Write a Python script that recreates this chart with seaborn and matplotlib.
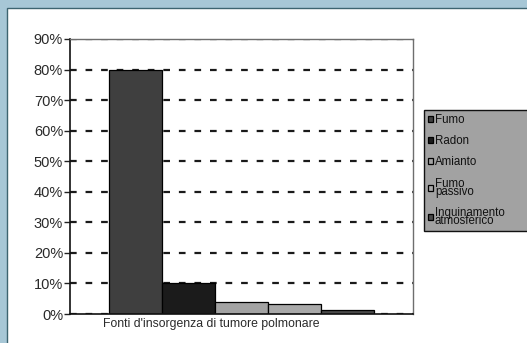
import pandas as pd
import matplotlib.pyplot as plt
import matplotlib.patches as mpatches
import matplotlib.transforms as mtransforms
import seaborn as sns

# Data
category = "Fonti d'insorgenza di tumore polmonare"
sources = ["Fumo", "Radon", "Amianto", "Fumo passivo", "Inquinamento atmosferico"]
shares = [80, 10, 3.8, 3.2, 1.2]
legend_labels = ["Fumo", "Radon", "Amianto", "Fumo\npassivo", "Inquinamento\natmosferico"]
yticks = [0, 10, 20, 30, 40, 50, 60, 70, 80, 90]
colors = ["#3f3f3f", "#1b1b1b", "#a3a3a3", "#a9a9a9", "#4a4a4a"]

df = pd.DataFrame({"Categoria": [category] * len(sources), "Fonte": sources, "Quota": shares})

sns.set_style("white")
plt.rcParams['font.family'] = ['Liberation Sans', 'DejaVu Sans']

fig = plt.figure(figsize=(5.27, 3.43), dpi=100)
fig.patch.set_facecolor("#a7c7d6")
# white panel inside the blue frame
panel = mpatches.Rectangle((7 / 527, -0.01), 1, 1.01 - 8 / 343, transform=fig.transFigure,
                           facecolor="white", edgecolor="#3d6470", linewidth=1.0, zorder=-10)
fig.patches.append(panel)

ax = fig.add_axes([70 / 527, 29 / 343, 343 / 527, 275 / 343])
ax.patch.set_alpha(0)
sns.barplot(data=df, x="Categoria", y="Quota", hue="Fonte", hue_order=sources,
            palette=colors, width=0.77, edgecolor="black", linewidth=0.9,
            saturation=1, ax=ax, legend=True)

ax.set_xlim(-0.5, 0.5)
ax.set_ylim(0, 90)
ax.set_yticks(yticks)
ax.set_yticklabels([f"{t}%" for t in yticks], fontsize=10.5, color="#2a2a2a")
ax.set_xlabel("")
ax.set_ylabel("")
ax.set_axisbelow(True)
ax.yaxis.grid(True, color="#1a1a1a", linestyle=(0, (3, 4)), linewidth=1.6)
ax.xaxis.grid(False)
ax.tick_params(axis="y", direction="out", length=4, width=1, color="#222222", pad=1, left=True)
ax.tick_params(axis="x", length=0, pad=3, labelsize=8.8, labelcolor="#2a2a2a")
# shift the category label to the left as in the original
for lab in ax.get_xticklabels():
    lab.set_transform(lab.get_transform() + mtransforms.ScaledTranslation(-0.3, 0, fig.dpi_scale_trans))

for side in ["left", "bottom"]:
    ax.spines[side].set_color("#111111")
    ax.spines[side].set_linewidth(1.2)
for side in ["top", "right"]:
    ax.spines[side].set_color("#6e6e6e")
    ax.spines[side].set_linewidth(1.0)

handles, _ = ax.get_legend_handles_labels()
ax.get_legend().remove()
leg = fig.legend(handles, legend_labels, loc="upper left", mode="expand",
                 bbox_to_anchor=(424 / 527, 1 - 110 / 343, 0.25, 0), fontsize=8.3,
                 frameon=True, fancybox=False, framealpha=1,
                 handlelength=0.45, handleheight=0.45, handletextpad=0.15,
                 labelspacing=0.8, borderpad=0.35, borderaxespad=0)
leg.get_frame().set_facecolor("#a2a2a2")
leg.get_frame().set_edgecolor("#111111")
leg.get_frame().set_linewidth(1.0)
for t in leg.get_texts():
    t.set_linespacing(0.55)
    t.set_color("#111111")

fig.savefig("out.png", dpi=100, facecolor=fig.get_facecolor())
